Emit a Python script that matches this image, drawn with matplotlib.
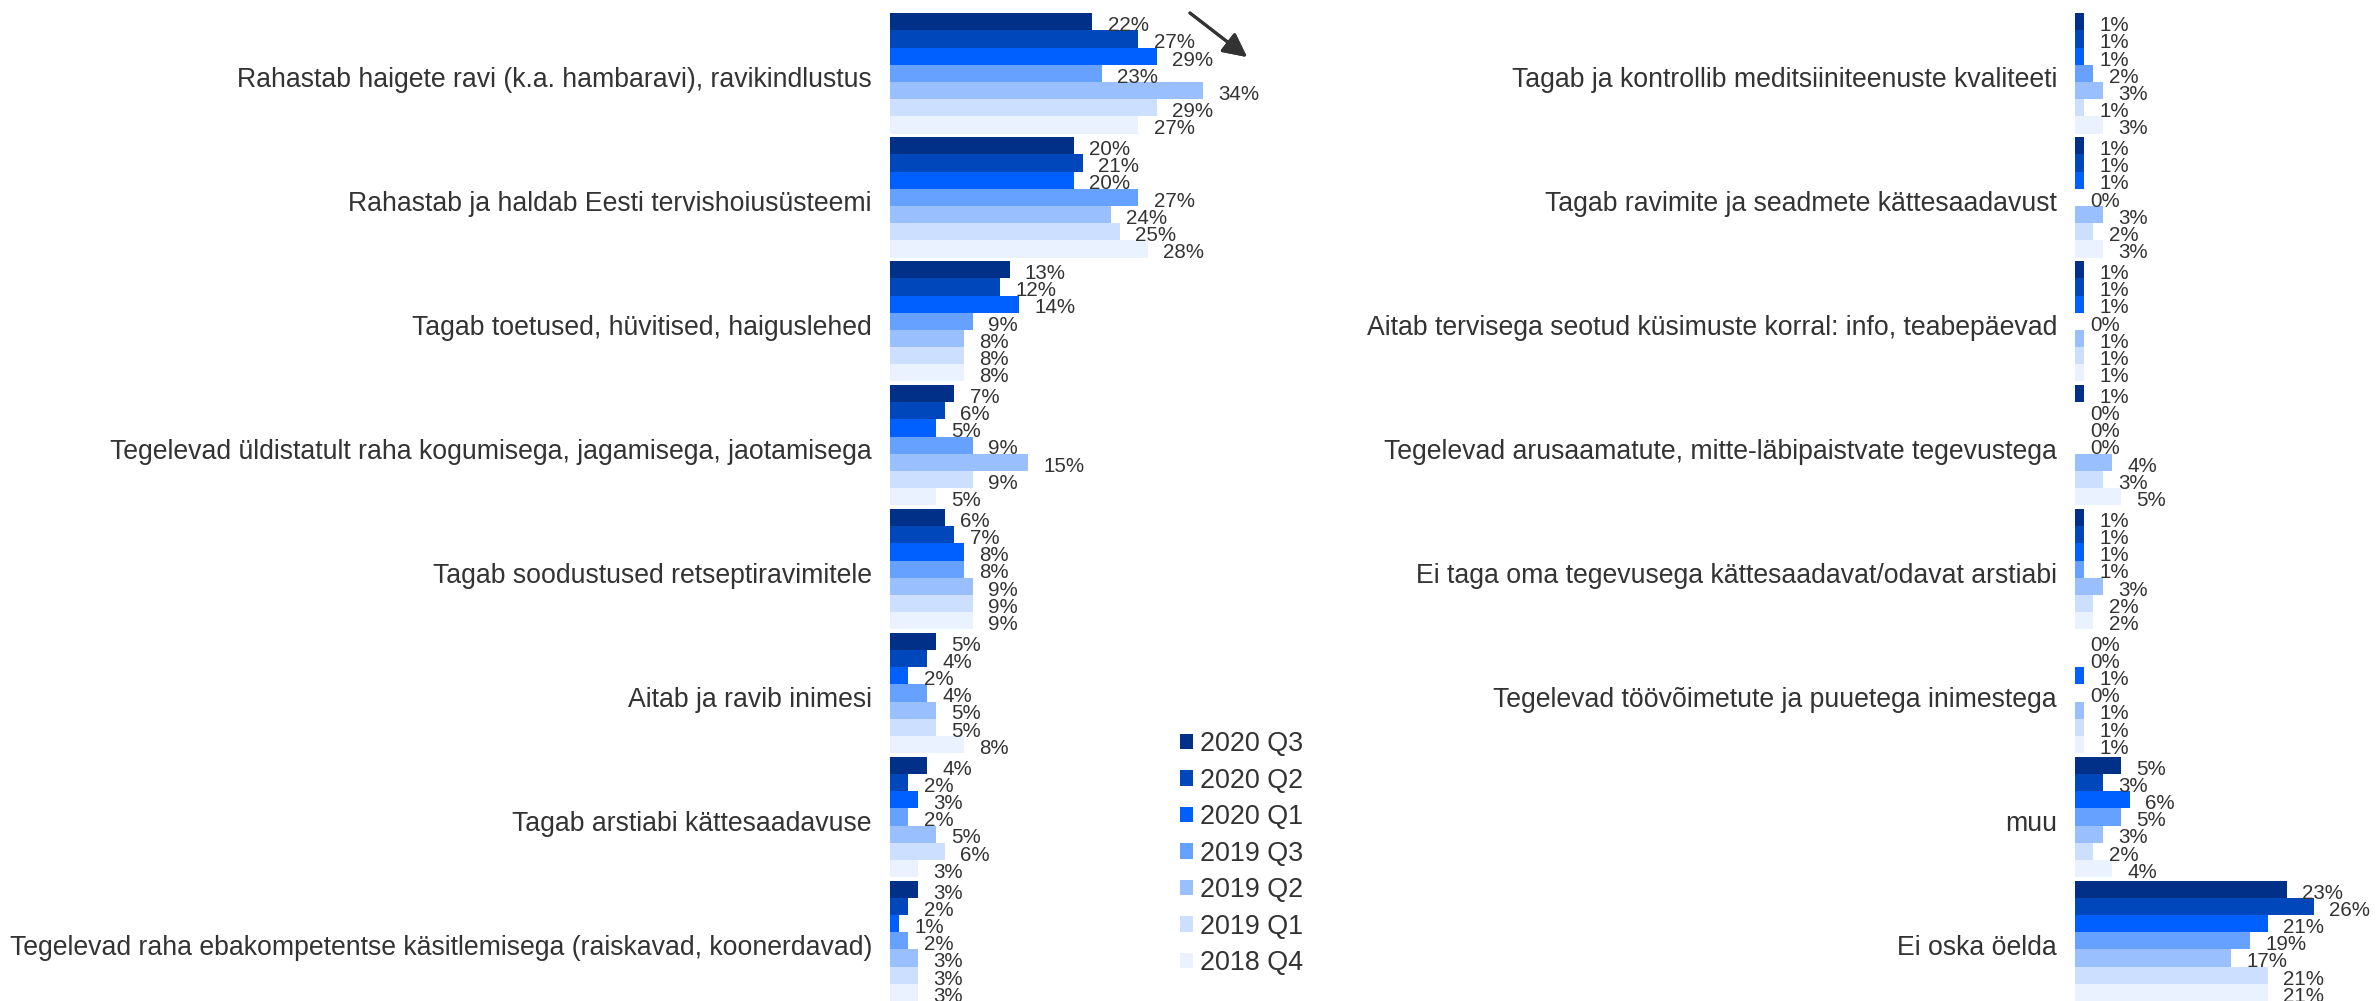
import numpy as np
import matplotlib.pyplot as plt
from matplotlib.patches import Patch

# survey waves, newest first
series = ['2020 Q3', '2020 Q2', '2020 Q1', '2019 Q3', '2019 Q2', '2019 Q1', '2018 Q4']
colors = ['#003087', '#0047BB', '#0060FF', '#66A1FF', '#99BFFF', '#CCDFFF', '#EBF2FF']

left_categories = [
    'Rahastab haigete ravi (k.a. hambaravi), ravikindlustus',
    'Rahastab ja haldab Eesti tervishoiusüsteemi',
    'Tagab toetused, hüvitised, haiguslehed',
    'Tegelevad üldistatult raha kogumisega, jagamisega, jaotamisega',
    'Tagab soodustused retseptiravimitele',
    'Aitab ja ravib inimesi',
    'Tagab arstiabi kättesaadavuse',
    'Tegelevad raha ebakompetentse käsitlemisega (raiskavad, koonerdavad)',
]
left_2020q3 = [22, 20, 13, 7, 6, 5, 4, 3]
left_2020q2 = [27, 21, 12, 6, 7, 4, 2, 2]
left_2020q1 = [29, 20, 14, 5, 8, 2, 3, 1]
left_2019q3 = [23, 27, 9, 9, 8, 4, 2, 2]
left_2019q2 = [34, 24, 8, 15, 9, 5, 5, 3]
left_2019q1 = [29, 25, 8, 9, 9, 5, 6, 3]
left_2018q4 = [27, 28, 8, 5, 9, 8, 3, 3]

right_categories = [
    'Tagab ja kontrollib meditsiiniteenuste kvaliteeti',
    'Tagab ravimite ja seadmete kättesaadavust',
    'Aitab tervisega seotud küsimuste korral: info, teabepäevad',
    'Tegelevad arusaamatute, mitte-läbipaistvate tegevustega',
    'Ei taga oma tegevusega kättesaadavat/odavat arstiabi',
    'Tegelevad töövõimetute ja puuetega inimestega',
    'muu',
    'Ei oska öelda',
]
right_2020q3 = [1, 1, 1, 1, 1, 0, 5, 23]
right_2020q2 = [1, 1, 1, 0, 1, 0, 3, 26]
right_2020q1 = [1, 1, 1, 0, 1, 1, 6, 21]
right_2019q3 = [2, 0, 0, 0, 1, 0, 5, 19]
right_2019q2 = [3, 3, 1, 4, 3, 1, 3, 17]
right_2019q1 = [1, 2, 1, 3, 2, 1, 2, 21]
right_2018q4 = [3, 3, 1, 5, 2, 1, 4, 21]

W, H = 2377, 1001
TEXT = '#333333'
BAR_H = 0.1387
PX_PER_PCT = 9.2

plt.rcParams['font.family'] = ['Liberation Sans', 'DejaVu Sans']


def px_axes(fig, x0, y0, w, h):
    # pixel box measured from the top-left corner
    return fig.add_axes([x0 / W, 1 - (y0 + h) / H, w / W, h / H])


def draw_panel(ax, categories, values, xmax):
    y = np.arange(len(categories))
    for k, (vals, col) in enumerate(zip(values, colors)):
        pos = y - 3 * BAR_H + k * BAR_H
        ax.barh(pos, vals, height=BAR_H, color=col, edgecolor='none')
        for p, v in zip(pos, vals):
            ax.annotate('%d%%' % v, xy=(v, p + BAR_H / 2), xytext=(11, -0.5),
                        textcoords='offset points', ha='left', va='baseline',
                        fontsize=14.8, color=TEXT, annotation_clip=False)
    for i, cat in enumerate(categories):
        ax.annotate(cat, xy=(0, i), xycoords=('axes fraction', 'data'),
                    xytext=(-13, -5), textcoords='offset points',
                    ha='right', va='center', fontsize=19.2, color=TEXT,
                    annotation_clip=False)
    ax.set_xlim(0, xmax)
    ax.set_ylim(len(categories) - 1 + 3.5 * BAR_H, -3.5 * BAR_H)
    ax.set_xticks([])
    ax.set_yticks([])
    for s in ax.spines.values():
        s.set_visible(False)
    ax.patch.set_alpha(0)


def plot_chart():
    fig = plt.figure(figsize=(W / 100, H / 100), dpi=100)
    top = 13.3
    ax_l = px_axes(fig, 890, top, 36 * PX_PER_PCT, H - top)
    ax_r = px_axes(fig, 2075, top, W - 2075, H - top)

    draw_panel(ax_l, left_categories,
               [left_2020q3, left_2020q2, left_2020q1, left_2019q3,
                left_2019q2, left_2019q1, left_2018q4], 36)
    draw_panel(ax_r, right_categories,
               [right_2020q3, right_2020q2, right_2020q1, right_2019q3,
                right_2019q2, right_2019q1, right_2018q4], (W - 2075) / PX_PER_PCT)

    # trend arrow next to the first group
    fig.add_artist(plt.annotate('', xy=(1247 / W, 1 - 57 / H), xytext=(1190 / W, 1 - 13 / H),
                                xycoords='figure fraction', textcoords='figure fraction',
                                arrowprops=dict(arrowstyle='-|>', color=TEXT, lw=2.2,
                                                mutation_scale=36, shrinkA=0, shrinkB=0)))

    handles = [Patch(facecolor=c, edgecolor='none') for c in colors]
    fig.legend(handles, series, loc='upper left',
               bbox_to_anchor=(1180 / W, 1 - 731 / H), frameon=False,
               fontsize=19.4, labelcolor=TEXT, handlelength=0.5, handleheight=0.5,
               handletextpad=0.25, labelspacing=0.39, borderpad=0, borderaxespad=0)

    fig.savefig('out.png', dpi=100)


if __name__ == '__main__':
    plot_chart()
